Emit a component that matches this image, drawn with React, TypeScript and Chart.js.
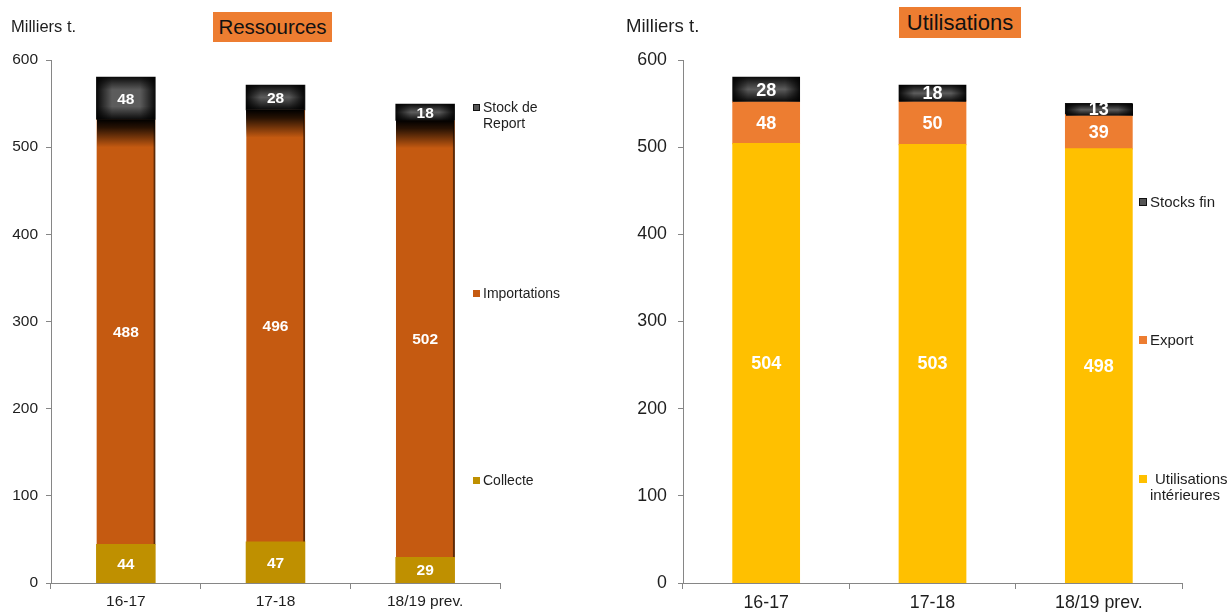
import React, { useEffect, useRef } from 'react';
import { Chart, registerables } from 'chart.js';
Chart.register(...registerables);

// ---------- DATA ----------
const categories = ['16-17', '17-18', '18/19 prev.'];
const collecte = [44, 47, 29];
const importations = [488, 496, 502];
const stockReport = [48, 28, 18];
const utilisationsInterieures = [504, 503, 498];
const exportValues = [48, 50, 39];
const stocksFin = [28, 18, 13];
const yMin = 0;
const yMax = 600;
const yStep = 100;
const ressourcesNames = ['Collecte', 'Importations', 'Stock de Report'];
const utilisationsNames = ['Utilisations intérieures', 'Export', 'Stocks fin'];
const titles = ['Ressources', 'Utilisations'];
const unitLabel = 'Milliers t.';

const FONT = '"Liberation Sans", Arial, Helvetica, sans-serif';
const AXIS = '#868686';
const TEXT = '#1e1e1e';

function softRect(ctx: CanvasRenderingContext2D, l: number, t: number, w: number, h: number) {
  const r = l + w;
  const b = t + h;
  ctx.fillStyle = '#5c5c5c';
  ctx.fillRect(l, t, w, h);
  const dv = Math.min(h / 2, 13);
  const dh = Math.min(w / 2, 15);
  const edge = (x0: number, y0: number, x1: number, y1: number) => {
    const g = ctx.createLinearGradient(x0, y0, x1, y1);
    g.addColorStop(0, 'rgba(0,0,0,0.88)');
    g.addColorStop(1, 'rgba(0,0,0,0)');
    return g;
  };
  ctx.fillStyle = edge(0, t, 0, t + dv);
  ctx.fillRect(l, t, w, dv);
  ctx.fillStyle = edge(0, b, 0, b - dv);
  ctx.fillRect(l, b - dv, w, dv);
  ctx.fillStyle = edge(l, 0, l + dh, 0);
  ctx.fillRect(l, t, dh, h);
  ctx.fillStyle = edge(r, 0, r - dh, 0);
  ctx.fillRect(r - dh, t, dh, h);
}

function makeDecor(stockIndex: number, fadeIndex: number, labelSize: number) {
  return {
    id: 'decor',
    afterDatasetsDraw(chart: any) {
      const ctx = chart.ctx as CanvasRenderingContext2D;
      ctx.save();
      const sm = chart.getDatasetMeta(stockIndex);
      sm.data.forEach((el: any) => {
        const p = el.getProps(['x', 'y', 'base', 'width'], true);
        const l = Math.round(p.x - p.width / 2);
        const t = Math.round(Math.min(p.y, p.base));
        const h = Math.round(Math.abs(p.base - p.y));
        softRect(ctx, l, t, Math.round(p.width), h + 0.5);
      });
      if (fadeIndex >= 0) {
        const fm = chart.getDatasetMeta(fadeIndex);
        fm.data.forEach((el: any) => {
          const p = el.getProps(['x', 'y', 'base', 'width'], true);
          const l = Math.round(p.x - p.width / 2);
          const t = p.y;
          const fh = 28;
          const g = ctx.createLinearGradient(0, t, 0, t + fh);
          g.addColorStop(0, 'rgba(0,0,0,1)');
          g.addColorStop(0.3, 'rgba(0,0,0,0.8)');
          g.addColorStop(1, 'rgba(0,0,0,0)');
          ctx.fillStyle = g;
          ctx.fillRect(l, t, Math.round(p.width), fh);
        });
      }
      ctx.fillStyle = '#ffffff';
      ctx.font = `bold ${labelSize}px ${FONT}`;
      ctx.textAlign = 'center';
      ctx.textBaseline = 'middle';
      chart.data.datasets.forEach((ds: any, di: number) => {
        const meta = chart.getDatasetMeta(di);
        meta.data.forEach((el: any, i: number) => {
          const p = el.getProps(['x', 'y', 'base'], true);
          ctx.fillText(String(ds.data[i]), p.x, (p.y + p.base) / 2 + 1);
        });
      });
      ctx.restore();
    },
  };
}

type PanelProps = {
  datasets: any[];
  width: number;
  height: number;
  padRight: number;
  yWidth: number;
  xHeight: number;
  fontSize: number;
  labelSize: number;
  yPad: number;
  barPct: number;
  stockIndex: number;
  fadeIndex: number;
};

function Panel(props: PanelProps) {
  const ref = useRef<HTMLCanvasElement>(null);
  useEffect(() => {
    if (!ref.current) return;
    const chart = new Chart(ref.current, {
      type: 'bar',
      data: { labels: categories, datasets: props.datasets },
      options: {
        animation: false,
        responsive: false,
        devicePixelRatio: 1,
        layout: { padding: { top: 60, right: props.padRight, bottom: 0, left: 0 } },
        plugins: { legend: { display: false }, tooltip: { enabled: false }, title: { display: false } },
        datasets: { bar: { barPercentage: props.barPct, categoryPercentage: 1, inflateAmount: 0.6 } },
        scales: {
          x: {
            stacked: true,
            afterFit: (s: any) => { s.height = props.xHeight; },
            grid: { offset: true, drawOnChartArea: false, drawTicks: true, tickLength: 6, color: AXIS },
            border: { color: AXIS, width: 1 },
            ticks: { color: TEXT, font: { family: FONT, size: props.fontSize }, padding: 3, maxRotation: 0 },
          },
          y: {
            stacked: true,
            min: yMin,
            max: yMax,
            afterFit: (s: any) => { s.width = props.yWidth; },
            grid: { drawOnChartArea: false, drawTicks: true, tickLength: 5, color: AXIS },
            border: { color: AXIS, width: 1 },
            ticks: { stepSize: yStep, color: TEXT, font: { family: FONT, size: props.fontSize }, padding: props.yPad },
          },
        },
      } as any,
      plugins: [makeDecor(props.stockIndex, props.fadeIndex, props.labelSize)],
    });
    return () => chart.destroy();
  }, []);
  return <canvas ref={ref} width={props.width} height={props.height} style={{ display: 'block', width: props.width, height: props.height }} />;
}

const abs = (l: number, t: number): React.CSSProperties => ({ position: 'absolute', left: l, top: t });

function LegendItem(p: { x: number; y: number; color: string; border?: string; size: number; font: number; lines: string[]; indent?: number; lh: number }) {
  return (
    <div style={{ ...abs(p.x, p.y - p.lh / 2), fontFamily: FONT, fontSize: p.font, lineHeight: `${p.lh}px`, color: TEXT, whiteSpace: 'nowrap' }}>
      <span style={{ position: 'absolute', left: 0, top: (p.lh - p.size) / 2, width: p.size, height: p.size, background: p.color, boxSizing: 'border-box', border: p.border ? `1px solid ${p.border}` : 'none' }} />
      <div style={{ marginLeft: p.size + 3 }}>
        {p.lines.map((ln, i) => (
          <div key={i} style={{ textIndent: i === 0 ? (p.indent || 0) : 0 }}>{ln}</div>
        ))}
      </div>
    </div>
  );
}

export default function App() {
  const leftSets = [
    { label: ressourcesNames[0], data: collecte, backgroundColor: '#BF9000', borderWidth: 0 },
    { label: ressourcesNames[1], data: importations, backgroundColor: '#C55A11', borderColor: '#5e2a06', borderWidth: { top: 0, right: 2, bottom: 0, left: 0 }, borderSkipped: false },
    { label: ressourcesNames[2], data: stockReport, backgroundColor: '#111111', borderWidth: 0 },
  ];
  const rightSets = [
    { label: utilisationsNames[0], data: utilisationsInterieures, backgroundColor: '#FFC000', borderWidth: 0 },
    { label: utilisationsNames[1], data: exportValues, backgroundColor: '#ED7D31', borderWidth: 0 },
    { label: utilisationsNames[2], data: stocksFin, backgroundColor: '#111111', borderWidth: 0 },
  ];
  const splitLeft = ressourcesNames[2].split(' ');
  const stockLines = [splitLeft.slice(0, 2).join(' '), splitLeft.slice(2).join(' ')];
  const utilLines = utilisationsNames[0].split(' ');
  return (
    <div style={{ position: 'fixed', left: 0, top: 0, width: 1230, height: 612, background: '#fff', overflow: 'hidden' }}>
      <div style={abs(0, 0)}>
        <Panel datasets={leftSets} width={615} height={612} padRight={115} yWidth={51} xHeight={29} fontSize={15.5} labelSize={15.5} yPad={8} barPct={0.39} stockIndex={2} fadeIndex={1} />
      </div>
      <div style={abs(615, 0)}>
        <Panel datasets={rightSets} width={615} height={612} padRight={48} yWidth={68} xHeight={29} fontSize={17.8} labelSize={18} yPad={11} barPct={0.4} stockIndex={2} fadeIndex={-1} />
      </div>

      <div style={{ ...abs(11, 16), fontFamily: FONT, fontSize: 16.5, lineHeight: '20px', color: TEXT }}>{unitLabel}</div>
      <div style={{ ...abs(626, 15), fontFamily: FONT, fontSize: 18.6, lineHeight: '22px', color: TEXT }}>{unitLabel}</div>

      <div style={{ ...abs(213, 12), width: 119, height: 30, background: '#ED7D31', fontFamily: FONT, fontSize: 20.5, lineHeight: '30px', textAlign: 'center', color: '#111' }}>{titles[0]}</div>
      <div style={{ ...abs(899, 7), width: 122, height: 31, background: '#ED7D31', fontFamily: FONT, fontSize: 22, lineHeight: '31px', textAlign: 'center', color: '#111' }}>{titles[1]}</div>

      <LegendItem x={473} y={107} color="#555" border="#111" size={7} font={14} lh={16} lines={stockLines} />
      <LegendItem x={473} y={293} color="#C55A11" size={7} font={14} lh={16} lines={[ressourcesNames[1]]} />
      <LegendItem x={473} y={480} color="#BF9000" size={7} font={14} lh={16} lines={[ressourcesNames[0]]} />

      <LegendItem x={1139} y={202} color="#555" border="#111" size={8} font={15} lh={16} lines={[utilisationsNames[2]]} />
      <LegendItem x={1139} y={340} color="#ED7D31" size={8} font={15} lh={16} lines={[utilisationsNames[1]]} />
      <LegendItem x={1139} y={479} color="#FFC000" size={8} font={15} lh={16} indent={5} lines={utilLines} />
    </div>
  );
}
